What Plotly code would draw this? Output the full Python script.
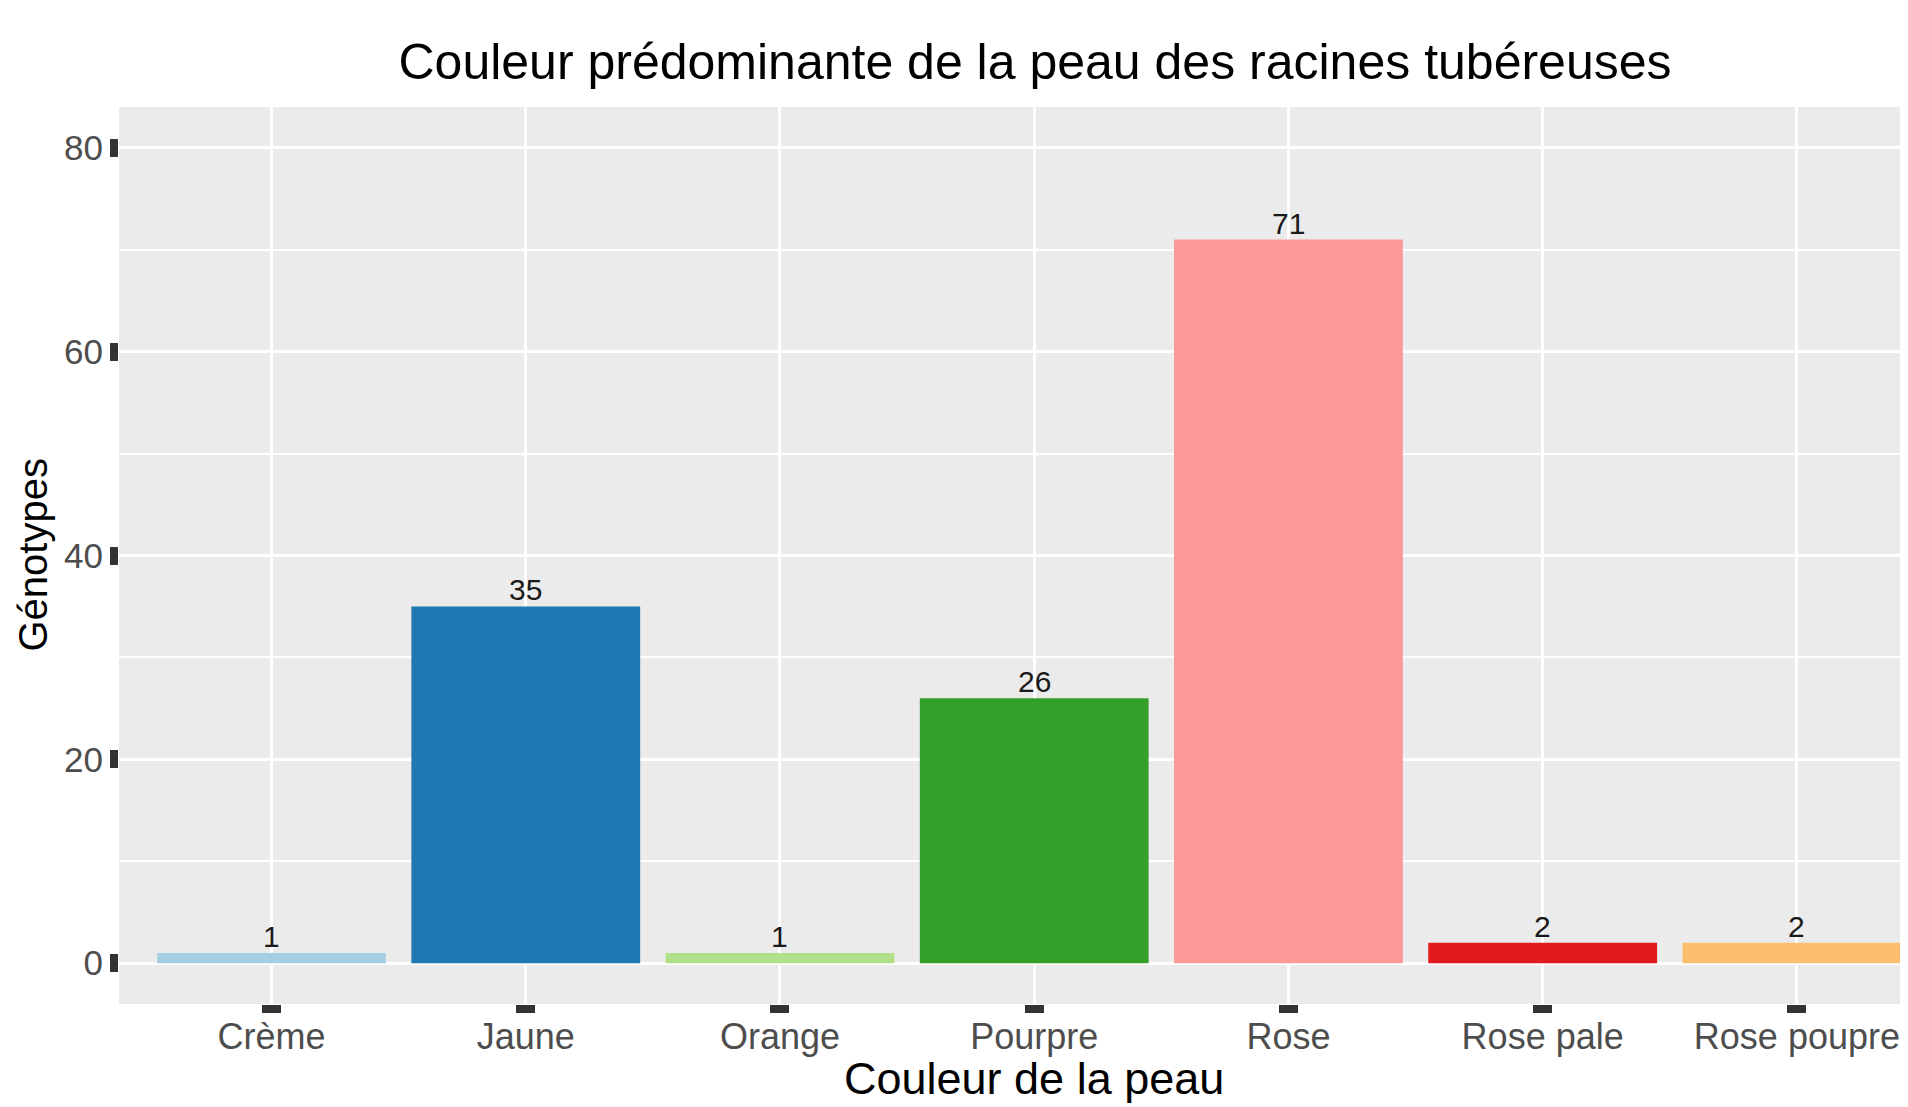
import plotly.graph_objects as go

categories = ["Crème", "Jaune", "Orange", "Pourpre", "Rose", "Rose pale", "Rose poupre"]
values = [1, 35, 1, 26, 71, 2, 2]
colors = ["#A6CEE3", "#1F78B4", "#B2DF8A", "#33A02C", "#FB9A99", "#E31A1C", "#FDBF6F"]
y_ticks = [0, 20, 40, 60, 80]

FONT = "Liberation Sans, Arial, Helvetica, sans-serif"

# The page body has an 8px default margin; the figure is sized to compensate.
W, H = 1900, 1099
ML, MR, MT, MB = 111, 0, 99, 103
PW, PH = W - ML - MR, H - MT - MB

fig = go.Figure()
fig.add_trace(go.Bar(
    x=categories, y=values,
    marker=dict(color=colors, line=dict(width=0)),
    cliponaxis=False,
    showlegend=False,
))

# value labels above bars, positioned in data coordinates
for c, v in zip(categories, values):
    fig.add_annotation(
        x=c, y=v, xref="x", yref="y",
        text=str(v), showarrow=False,
        xanchor="center", yanchor="bottom", yshift=-2,
        font=dict(family=FONT, size=30, color="#1A1A1A"),
    )

# x-axis title centred on the full (cropped) ggplot panel
fig.add_annotation(
    x=(1034 - 8 - ML) / PW, y=-(1078.5 - 1004) / PH,
    xref="paper", yref="paper",
    text="Couleur de la peau", showarrow=False,
    xanchor="center", yanchor="middle",
    font=dict(family=FONT, size=45, color="black"),
)

# y-axis title
fig.add_annotation(
    x=(32 - 8 - ML) / PW, y=0.5,
    xref="paper", yref="paper",
    text="Génotypes", showarrow=False, textangle=-90,
    xanchor="center", yanchor="middle",
    font=dict(family=FONT, size=40, color="black"),
)

fig.update_layout(
    width=W, height=H,
    margin=dict(l=ML, r=MR, t=MT, b=MB, autoexpand=False),
    paper_bgcolor="white",
    plot_bgcolor="#EBEBEB",
    bargap=0.1,
    font=dict(family=FONT),
    title=dict(
        text="Couleur prédominante de la peau des racines tubéreuses",
        x=1027 / W, xanchor="center", xref="container",
        y=1 - 53 / H, yanchor="middle", yref="container",
        font=dict(family=FONT, size=50, color="black"),
    ),
)

fig.update_xaxes(
    type="category",
    range=[-0.6, 6.437],
    automargin=False,
    showgrid=True, gridcolor="white", gridwidth=3,
    ticks="outside", ticklen=8, tickwidth=19, tickcolor="#333333",
    ticklabelstandoff=-7,
    tickfont=dict(family=FONT, size=36, color="#4D4D4D"),
    showline=False, zeroline=False,
)

fig.update_yaxes(
    range=[-4, 84],
    automargin=False,
    tickvals=y_ticks,
    ticktext=[str(v) for v in y_ticks],
    showgrid=True, gridcolor="white", gridwidth=3,
    minor=dict(dtick=10, tick0=0, showgrid=True, gridcolor="white", gridwidth=1.5, ticks=""),
    ticks="outside", ticklen=8, tickwidth=18, tickcolor="#333333",
    ticklabelstandoff=0,
    tickfont=dict(family=FONT, size=35, color="#4D4D4D"),
    showline=False, zeroline=False,
)

fig.write_html("out.html")
